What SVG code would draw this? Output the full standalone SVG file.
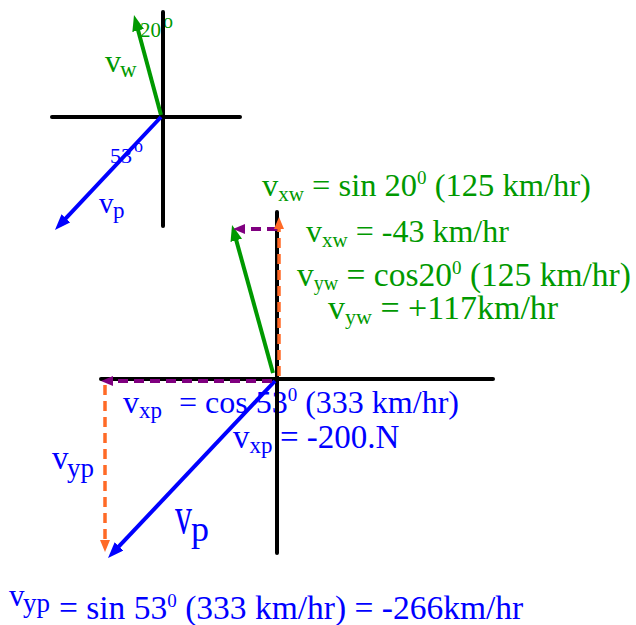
<svg xmlns="http://www.w3.org/2000/svg" width="636" height="625" viewBox="0 0 636 625">
<style>
.t{font-family:"Liberation Serif","Times New Roman",serif}
.g{fill:#009900}
.b{fill:#0000ff}
.axis{stroke:#000;stroke-width:4;stroke-linecap:round;fill:none}
.vg{stroke:#009900;stroke-width:4;fill:none}
.vb{stroke:#0000ff;stroke-width:4;fill:none}
.dp{stroke:#800080;stroke-width:4;stroke-dasharray:10 6;fill:none}
.do{stroke:#ff6a26;stroke-width:3.5;stroke-dasharray:10 6;fill:none}
</style>
<defs>
<marker id="ahG" viewBox="0 0 16 12" refX="6" refY="6" markerWidth="16" markerHeight="12" markerUnits="userSpaceOnUse" orient="auto"><path d="M0,0 L16,6 L0,12 z" fill="#009900"/></marker>
<marker id="ahB" viewBox="0 0 16 12" refX="6" refY="6" markerWidth="16" markerHeight="12" markerUnits="userSpaceOnUse" orient="auto"><path d="M0,0 L16,6 L0,12 z" fill="#0000ff"/></marker>
<marker id="ahP" viewBox="0 0 12 10" refX="4" refY="5" markerWidth="12" markerHeight="10" markerUnits="userSpaceOnUse" orient="auto"><path d="M0,0 L12,5 L0,10 z" fill="#800080"/></marker>
<marker id="ahO" viewBox="0 0 12 10" refX="4" refY="5" markerWidth="12" markerHeight="10" markerUnits="userSpaceOnUse" orient="auto"><path d="M0,0 L12,5 L0,10 z" fill="#ff6a26"/></marker>
</defs>

<g id="labels-small" class="t">
<text class="g" x="140" y="37" font-size="21">20<tspan x="163" y="28" font-size="20">o</tspan></text>
<text class="g" x="105" y="72" font-size="32">v<tspan x="120" y="77" font-size="23">w</tspan></text>
<text class="b" x="110" y="163" font-size="22">53<tspan x="134" y="152" font-size="18">o</tspan></text>
<text class="b" x="99" y="213" font-size="29">v<tspan x="113" y="218" font-size="23">p</tspan></text>
</g>

<g id="eq-wind" class="t g">
<text x="262" y="196" font-size="32.5">v<tspan dy="5" font-size="21">xw</tspan><tspan dy="-5"> = sin 20</tspan><tspan dy="-12" font-size="19">0</tspan><tspan dy="12"> (125 km/hr)</tspan></text>
<text x="306" y="242" font-size="32">v<tspan dy="5" font-size="21">xw</tspan><tspan dy="-5"> = -43 km/hr</tspan></text>
<text x="297" y="286" font-size="33.5">v<tspan dy="4" font-size="20">yw</tspan><tspan dy="-4"> = cos20</tspan><tspan dy="-12" font-size="19">0</tspan><tspan dy="12"> (125 km/hr)</tspan></text>
<text x="328" y="319" font-size="34">v<tspan dy="5" font-size="22">yw</tspan><tspan dy="-5"> = +117km/hr</tspan></text>
</g>

<g id="eq-plane" class="t b">
<text x="123" y="413" font-size="32">v<tspan dy="5" font-size="23">xp</tspan><tspan x="179" dy="-5">= cos 53</tspan><tspan dy="-12" font-size="19">0</tspan><tspan dy="12"> (333 km/hr)</tspan></text>
<text x="233" y="448" font-size="33">v<tspan dy="5" font-size="23">xp</tspan><tspan x="280" dy="-5">= -200.N</tspan></text>
<text x="52" y="469" font-size="33">v</text>
<text x="67" y="477" font-size="27">yp</text>
<text x="9" y="606" font-size="31">v<tspan x="23" y="612" font-size="27">yp</tspan></text>
<text x="59" y="619" font-size="33.5">= sin 53<tspan dy="-12" font-size="19">0</tspan><tspan dy="12"> (333 km/hr) = -266km/hr</tspan></text>
<text transform="translate(175,533) scale(1,1.55)" x="0" y="0" font-size="34">v</text>
<text x="191" y="541" font-size="36">p</text>
</g>

<g id="axes">
<line class="axis" x1="163" y1="12" x2="163" y2="226"/>
<line class="axis" x1="52" y1="117" x2="240" y2="117"/>
<line class="axis" x1="277" y1="212" x2="277" y2="553"/>
<line class="axis" x1="101" y1="379" x2="493" y2="379"/>
</g>

<g id="connectors">
<line class="vg" x1="161" y1="115" x2="136.6" y2="24.7" marker-end="url(#ahG)"/>
<line class="vb" x1="161" y1="117" x2="61.8" y2="222.7" marker-end="url(#ahB)"/>
<line class="vg" x1="273" y1="373" x2="234.7" y2="234.6" marker-end="url(#ahG)"/>
<line class="vb" x1="275" y1="381" x2="114.9" y2="550.7" marker-end="url(#ahB)"/>
<line class="dp" x1="277" y1="229" x2="241" y2="229" marker-end="url(#ahP)"/>
<line class="do" x1="279" y1="376" x2="279" y2="225" marker-end="url(#ahO)"/>
<line class="dp" x1="272" y1="381" x2="109" y2="381" marker-end="url(#ahP)"/>
<line class="do" x1="105" y1="385" x2="105" y2="544" marker-end="url(#ahO)"/>
</g>
</svg>
